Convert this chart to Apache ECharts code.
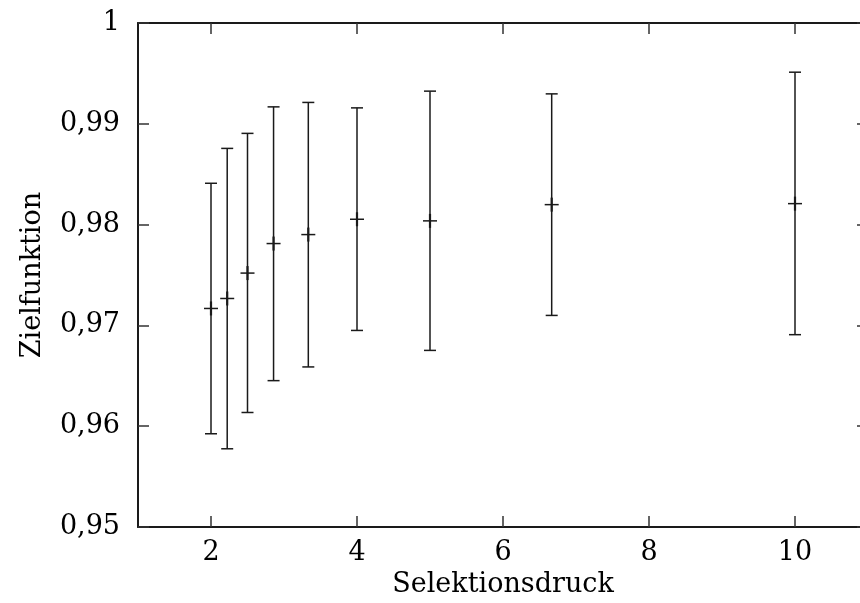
<!DOCTYPE html>
<html>
<head>
<meta charset="utf-8">
<script src="https://cdn.jsdelivr.net/npm/echarts@6/dist/echarts.min.js"></script>
<style>
  html, body { margin: 0; padding: 0; background: #fff; }
  #chart { width: 860px; height: 603px; }
</style>
</head>
<body>
<div id="chart"></div>
<script>
// Selektionsdruck (x) und Zielfunktion: Mittelwert, unteres und oberes Ende
const druck = [2, 2.222, 2.5, 2.857, 3.333, 4, 5, 6.667, 10];
const mittel = [0.97168, 0.97267, 0.97519, 0.97812, 0.97901, 0.98053, 0.98037, 0.98198, 0.98208];
const unten = [0.95925, 0.95776, 0.96136, 0.96452, 0.96588, 0.96950, 0.96752, 0.97099, 0.96908];
const oben = [0.98410, 0.98756, 0.98905, 0.99168, 0.99212, 0.99158, 0.99324, 0.99297, 0.99512];
const xTicks = [2, 4, 6, 8, 10];
const yTicks = [0.95, 0.96, 0.97, 0.98, 0.99, 1];

const FONT = "DejaVu Serif";
const INK = "#1a1a1a";

const data = druck.map((x, i) => [x, mittel[i], unten[i], oben[i]]);

// Komma statt Punkt
const fmt = (v) => String(Number(v.toFixed(2))).replace(".", ",");

const tick = (show) => ({
  show: show,
  inside: true,
  length: 11,
  lineStyle: { color: "#333", width: 1.5 },
});

const chart = echarts.init(document.getElementById("chart"), null, { renderer: "canvas" });
chart.setOption({
  animation: false,
  backgroundColor: "#fff",
  // rechte Achse liegt ausserhalb des Bildes (bei x=11)
  grid: { left: 138, top: 23, width: 730, height: 504, outerBoundsMode: "none" },
  xAxis: [
    {
      type: "value",
      position: "bottom",
      min: 1,
      max: 11,
      name: "Selektionsdruck",
      nameLocation: "middle",
      nameGap: 44,
      nameTextStyle: { fontFamily: FONT, fontSize: 27, color: "#000" },
      axisLine: { lineStyle: { color: INK, width: 2 } },
      axisTick: Object.assign(tick(true), { customValues: xTicks }),
      axisLabel: {
        customValues: xTicks,
        margin: 12,
        fontFamily: FONT,
        fontSize: 27,
        color: "#000",
      },
      splitLine: { show: false },
    },
    {
      type: "value",
      position: "top",
      min: 1,
      max: 11,
      axisLine: { lineStyle: { color: INK, width: 2 } },
      axisTick: Object.assign(tick(true), { customValues: xTicks }),
      axisLabel: { show: false },
      splitLine: { show: false },
    },
  ],
  yAxis: [
    {
      type: "value",
      position: "left",
      min: 0.95,
      max: 1,
      interval: 0.01,
      name: "Zielfunktion",
      nameLocation: "middle",
      nameGap: 92,
      nameRotate: 90,
      nameTextStyle: { fontFamily: FONT, fontSize: 27, color: "#000" },
      axisLine: { show: true, lineStyle: { color: INK, width: 2 } },
      axisTick: Object.assign(tick(true), { customValues: yTicks }),
      axisLabel: {
        customValues: yTicks,
        margin: 18,
        formatter: fmt,
        fontFamily: FONT,
        fontSize: 27,
        color: "#000",
      },
      splitLine: { show: false },
    },
    {
      type: "value",
      position: "right",
      min: 0.95,
      max: 1,
      interval: 0.01,
      axisLine: { show: true, lineStyle: { color: INK, width: 2 } },
      axisTick: Object.assign(tick(true), { customValues: yTicks }),
      axisLabel: { show: false },
      splitLine: { show: false },
    },
  ],
  series: [
    {
      type: "custom",
      xAxisIndex: 0,
      yAxisIndex: 0,
      data: data,
      encode: { x: 0, y: [1, 2, 3] },
      renderItem: function (params, api) {
        const x = api.value(0);
        const m = api.coord([x, api.value(1)]);
        const lo = api.coord([x, api.value(2)]);
        const hi = api.coord([x, api.value(3)]);
        const cap = 6;
        const plus = 7;
        const style = { stroke: INK, lineWidth: 1.5 };
        const seg = (x1, y1, x2, y2) => ({
          type: "line",
          shape: { x1: x1, y1: y1, x2: x2, y2: y2 },
          style: style,
        });
        return {
          type: "group",
          children: [
            seg(lo[0], lo[1], hi[0], hi[1]),
            seg(lo[0] - cap, lo[1], lo[0] + cap, lo[1]),
            seg(hi[0] - cap, hi[1], hi[0] + cap, hi[1]),
            seg(m[0] - plus, m[1], m[0] + plus, m[1]),
            {
              type: "line",
              shape: { x1: m[0], y1: m[1] - plus, x2: m[0], y2: m[1] + plus },
              style: { stroke: INK, lineWidth: 2.2 },
            },
          ],
        };
      },
    },
  ],
});
</script>
</body>
</html>
